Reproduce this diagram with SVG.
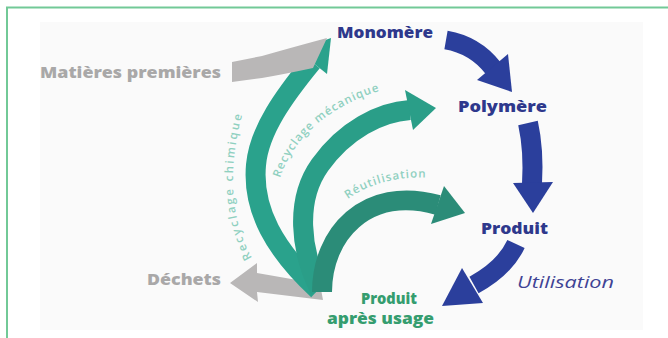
<svg xmlns="http://www.w3.org/2000/svg" width="668" height="338" viewBox="0 0 668 338">
  <style>
    .lbl { font-family: "Open Sans", "Liberation Sans", sans-serif; font-weight: 800; font-size: 16px; }
    .blue { fill: #2e388c; }
    .grey { fill: #a9a8a8; }
    .green { fill: #359d6f; }
    .arc { fill: none; stroke-width: 20; stroke-linecap: butt; }
    .arcTxt { font-family: "Open Sans", "Liberation Sans", sans-serif; font-weight: 600; font-size: 11.5px; fill: #8fd0c0; letter-spacing: 1px; }
  </style>
  <defs>
    <path id="pChim" d="M 252 258 C 230 220 226 165 246 102"/>
    <path id="pMeca" d="M 280 178 C 292 140 330 100 402 85"/>
    <path id="pReut" d="M 348 199 C 368 184 400 175 434 178"/>
  </defs>

  <!-- page -->
  <rect x="0" y="0" width="668" height="338" fill="#ffffff"/>
  <rect x="40" y="22" width="603" height="308" fill="#fafafa"/>
  <path d="M 6 7.5 H 668 M 7 7 V 338" fill="none" stroke="#72c997" stroke-width="2"/>

  <g id="connectors">
    <!-- waste arrow -->
    <polygon fill="#b9b7b7" points="230,283 257,263 257,273 320,284 323,300 257,292 258,302"/>

    <!-- recycling arcs -->
    <path class="arc" stroke="#2aa28c" d="M 318 290 C 275 250 252 210 256 165 C 259 130 285 95 312 62"/>
    <polygon fill="#2aa28c" points="327,74 331,38 297,50"/>
    <path class="arc" stroke="#2a9e88" d="M 320 290 C 300 250 295 200 320 165 C 345 130 380 112 410 110"/>
    <polygon fill="#2a9e88" points="405,90 436,108 413,130"/>
    <path class="arc" stroke="#2b8c78" d="M 322 292 C 322 235 365 185 438 205"/>
    <polygon fill="#2b8c78" points="444,186 465,213 431,224"/>

    <!-- raw material feed -->
    <path fill="#b9b7b7" d="M 232 62 L 262 56 Q 290 48 327 38 L 313 68 Q 285 74 262 78 L 232 82 Z"/>

    <!-- production / use chain -->
    <path d="M 446 40 Q 475 45 493 68" fill="none" stroke="#2b3f9c" stroke-width="19"/>
    <polygon fill="#2b3f9c" points="508,54 512,92 477,80"/>
    <path d="M 528 123 Q 534 150 532 184" fill="none" stroke="#2b3f9c" stroke-width="20"/>
    <polygon fill="#2b3f9c" points="513,183 553,182 533,213"/>
    <path d="M 516 244 Q 505 268 474 285" fill="none" stroke="#2b3f9c" stroke-width="19"/>
    <polygon fill="#2b3f9c" points="462,268 483,303 442,306"/>

    <!-- arc labels -->
    <text class="arcTxt"><textPath href="#pChim" textLength="148">Recyclage chimique</textPath></text>
    <text class="arcTxt"><textPath href="#pMeca">Recyclage mécanique</textPath></text>
    <text class="arcTxt"><textPath href="#pReut">Réutilisation</textPath></text>
  </g>

  <g id="matieres"><text class="lbl grey" x="40" y="78" textLength="181" lengthAdjust="spacingAndGlyphs">Matières premières</text></g>
  <g id="dechets"><text class="lbl grey" x="147" y="285" textLength="74" lengthAdjust="spacingAndGlyphs">Déchets</text></g>
  <g id="monomere"><text class="lbl blue" x="337" y="38" textLength="96" lengthAdjust="spacingAndGlyphs">Monomère</text></g>
  <g id="polymere"><text class="lbl blue" x="458" y="112" textLength="89" lengthAdjust="spacingAndGlyphs">Polymère</text></g>
  <g id="produit"><text class="lbl blue" x="481" y="234" textLength="67" lengthAdjust="spacingAndGlyphs">Produit</text></g>
  <g id="utilisation"><text x="517" y="288" textLength="97" lengthAdjust="spacingAndGlyphs" style="font-family:'Open Sans','Liberation Sans',sans-serif;font-style:italic;font-size:17px;fill:#3f4395">Utilisation</text></g>
  <g id="produit-apres-usage">
    <text class="lbl green" x="361" y="304" textLength="56" lengthAdjust="spacingAndGlyphs">Produit</text>
    <text class="lbl green" x="327" y="324" textLength="107" lengthAdjust="spacingAndGlyphs">après usage</text>
  </g>
</svg>
